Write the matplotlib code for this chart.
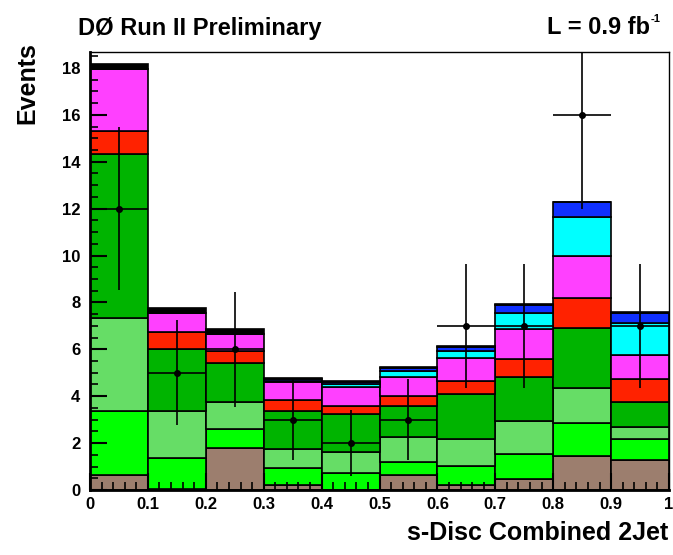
import numpy as np
import matplotlib
matplotlib.use("Agg")
from matplotlib import pyplot as plt
from matplotlib.ticker import MultipleLocator

plt.rcParams['font.family'] = ['Liberation Sans', 'DejaVu Sans']

# bins of the discriminant
bin_lo = np.arange(10) / 10.0
bin_width = 0.1

# stacked backgrounds, bottom to top (events per bin)
brown   = [0.64, 0.05, 1.78, 0.20, 0.00, 0.64, 0.22, 0.47, 1.46, 1.29]
bgreen  = [2.73, 1.33, 0.82, 0.75, 0.74, 0.57, 0.82, 1.07, 1.41, 0.88]
lgreen  = [3.96, 1.99, 1.17, 0.78, 0.89, 1.06, 1.13, 1.42, 1.48, 0.53]
green   = [7.00, 2.63, 1.66, 1.64, 1.60, 1.33, 1.92, 1.84, 2.56, 1.05]
red     = [0.99, 0.75, 0.51, 0.47, 0.37, 0.42, 0.57, 0.79, 1.26, 1.00]
magenta = [2.62, 0.78, 0.70, 0.76, 0.78, 0.80, 0.95, 1.26, 1.82, 1.01]
cyan    = [0.00, 0.00, 0.00, 0.04, 0.12, 0.27, 0.33, 0.70, 1.64, 1.35]
blue    = [0.00, 0.00, 0.00, 0.10, 0.12, 0.11, 0.17, 0.33, 0.64, 0.44]
black   = [0.23, 0.22, 0.21, 0.03, 0.04, 0.04, 0.03, 0.04, 0.03, 0.03]

# observed data
data = [12, 5, 6, 3, 2, 3, 7, 7, 16, 7]

layers = [brown, bgreen, lgreen, green, red, magenta, cyan, blue, black]
colors = ['#9c7e6e', '#00ff00', '#66dd66', '#00b400', '#ff2200',
          '#ff40ff', '#00ffff', '#1030ff', '#000000']

fig = plt.figure(figsize=(6.73, 5.55), dpi=100)
ax = fig.add_axes([90/673, 65/555, 579/673, 438/555])

bottom = np.zeros(10)
for vals, col in zip(layers, colors):
    vals = np.array(vals)
    ax.bar(bin_lo, vals, width=bin_width, bottom=bottom, align='edge',
           color=col, edgecolor='black', linewidth=1.2)
    bottom += vals

centers = bin_lo + bin_width / 2
ax.errorbar(centers, data, yerr=np.sqrt(data), xerr=bin_width / 2,
            fmt='o', color='black', markersize=4, elinewidth=1.2, capsize=0)

ax.set_xlim(0, 1)
ax.set_ylim(0, 18.68)
ax.xaxis.set_major_locator(MultipleLocator(0.1))
ax.xaxis.set_minor_locator(MultipleLocator(0.02))
ax.yaxis.set_major_locator(MultipleLocator(2))
ax.yaxis.set_minor_locator(MultipleLocator(0.5))
ax.tick_params(which='both', direction='in', top=False, right=False)
ax.tick_params(which='major', length=12, width=1.5, labelsize=12)
ax.tick_params(axis='y', which='major', pad=7)
ax.tick_params(axis='x', which='major', pad=5)
ax.tick_params(which='minor', length=6, width=1.2)
ax.set_xticks(np.arange(0, 1.01, 0.1))
ax.set_xticklabels(['0', '0.1', '0.2', '0.3', '0.4', '0.5', '0.6', '0.7', '0.8', '0.9', '1'],
                   fontweight='bold')
for lab in ax.get_yticklabels():
    lab.set_fontweight('bold')
for side in ['left', 'bottom']:
    ax.spines[side].set_linewidth(2)
for side in ['top', 'right']:
    ax.spines[side].set_linewidth(1)

fig.text(27/673, 1 - 42/555, 'Events', rotation=90, ha='center', va='top',
         fontsize=18, fontweight='bold')
fig.text(668/673, 1 - 533/555, 's-Disc Combined 2Jet', ha='right', va='center',
         fontsize=18, fontweight='bold')
fig.text(78/673, 1 - 28/555, 'DØ Run II Preliminary', ha='left', va='center',
         fontsize=17, fontweight='bold')
fig.text(650/673, 1 - 28/555, 'L = 0.9 fb', ha='right', va='center',
         fontsize=17, fontweight='bold')
fig.text(651/673, 1 - 19/555, '-1', ha='left', va='center',
         fontsize=8, fontweight='bold')

fig.savefig('out.png', dpi=100)
